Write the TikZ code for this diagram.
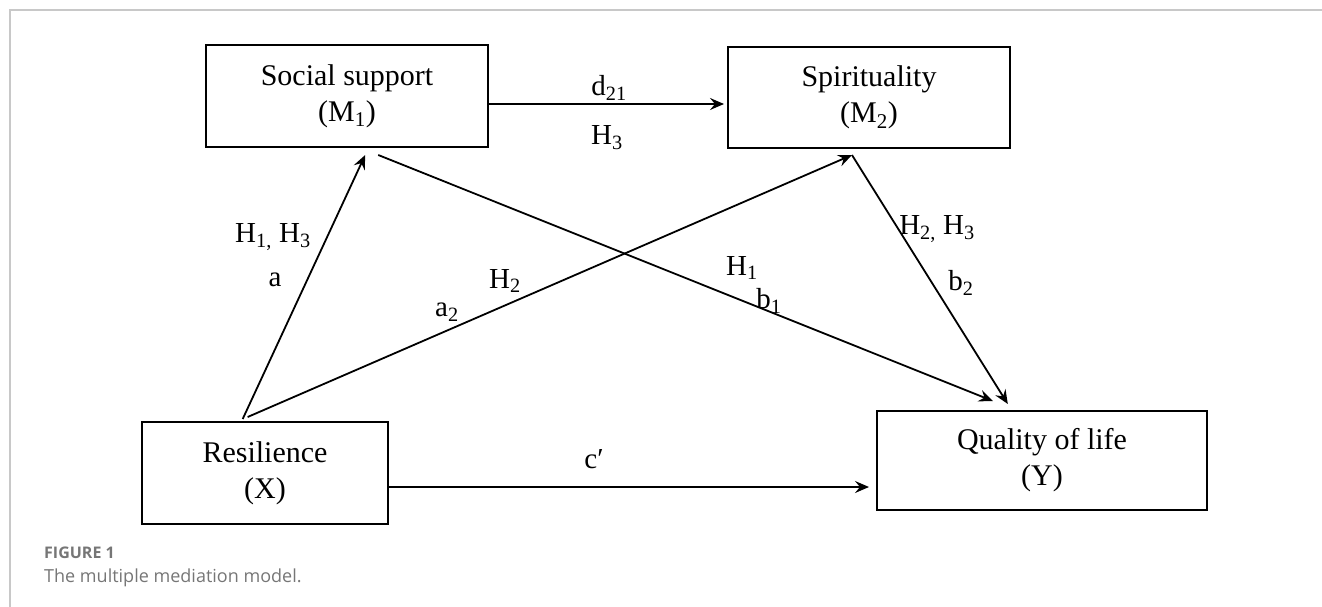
\documentclass[tikz,border=0pt]{standalone}
\usepackage{fontspec}
\setmainfont{Liberation Serif}
\newfontfamily\capfont{Open Sans}
\usetikzlibrary{arrows.meta,calc}
\definecolor{capgray}{HTML}{767676}
\definecolor{framegray}{HTML}{C8C8C8}
\begin{document}
\begin{tikzpicture}[x=1pt,y=-1pt,
  box/.style={draw, line width=2pt, inner sep=0pt, align=center,
    font=\fontsize{30}{36}\selectfont},
  conn/.style={line width=1.8pt, -{Stealth[length=14pt,width=12pt,inset=5pt]}},
  lbl/.style={inner sep=0pt, font=\fontsize{29}{34}\selectfont}]
\useasboundingbox (0,0) rectangle (1322,607);
\draw[framegray, line width=1.8pt] (10,607) -- (10,10) -- (1322,10);

\node[box, minimum width=282pt, minimum height=102pt] (M1) at (347,96) {Social support\\(M\textsubscript{1})};
\node[box, minimum width=282pt, minimum height=101pt] (M2) at (869,97.5) {Spirituality\\(M\textsubscript{2})};
\node[box, minimum width=246pt, minimum height=102pt] (X) at (265,473) {Resilience\\(X)};
\node[box, minimum width=330pt, minimum height=99pt] (Y) at (1042,460.5) {Quality of life\\(Y)};

\coordinate (xa) at ($(X.north west)!0.41!(X.north east)+(0,-2)$);
\coordinate (xb) at ($(X.north west)!0.43!(X.north east)+(0,-4)$);
\coordinate (m1a) at ($(M1.south west)!0.564!(M1.south east)+(0,7)$);
\coordinate (m1b) at ($(M1.south west)!0.61!(M1.south east)+(0,7)$);
\coordinate (m2a) at ($(M2.south west)!0.44!(M2.south east)+(0,6)$);
\coordinate (ya) at ($(Y.north west)!0.352!(Y.north east)+(0,-9)$);
\coordinate (yb) at ($(Y.north west)!0.397!(Y.north east)+(0,-6)$);
\coordinate (m1e) at ($(M1.east)+(0,8)$);
\coordinate (xe) at ($(X.east)+(0,14)$);

\draw[conn] (xa) -- (m1a);
\draw[conn] (xb) -- (m2a);
\draw[conn] (m1b) -- (ya);
\draw[conn] (m2a) -- (yb);
\draw[conn, shorten >=3pt] (m1e) -- (m1e -| M2.west);
\draw[conn, shorten >=7pt] (xe) -- (xe -| Y.west);

\node[lbl] (l1) at (273,237) {H\textsubscript{1,} H\textsubscript{3}};
\node[lbl] (l2) at (275,280) {a};
\node[lbl] (l3) at (505,281) {H\textsubscript{2}};
\node[lbl] (l4) at (447,312) {a\textsubscript{2}};
\node[lbl] (l5) at (742,268) {H\textsubscript{1}};
\node[lbl] (l6) at (769,301) {b\textsubscript{1}};
\node[lbl] (l7) at (937,229) {H\textsubscript{2,} H\textsubscript{3}};
\node[lbl] (l8) at (961,283) {b\textsubscript{2}};
\node[lbl] (l9) at (609,88) {d\textsubscript{21}};
\node[lbl] (l10) at (607,138) {H\textsubscript{3}};
\node[lbl] (l11) at (594,459) {c′};

\node[anchor=base west, inner sep=0pt, text=capgray, font=\capfont\bfseries\fontsize{16}{18}\selectfont] (fig) at (44,558) {FIGURE 1};
\node[anchor=base west, inner sep=0pt, text=capgray, font=\capfont\fontsize{18}{20}\selectfont] (cap) at (44,582) {The multiple mediation model.};
\end{tikzpicture}
\end{document}
